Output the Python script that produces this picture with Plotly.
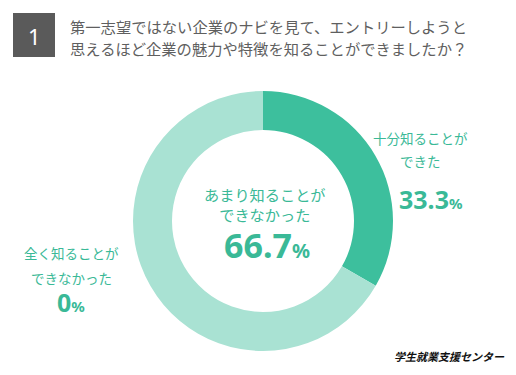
import plotly.graph_objects as go

# ---- data ----
categories = ["十分知ることができた", "あまり知ることができなかった", "全く知ることができなかった"]
values = [33.3, 66.7, 0]
colors = ["#3dbf9d", "#a9e2d3", "#7fd1bb"]
title_lines = ["第一志望ではない企業のナビを見て、エントリーしようと",
               "思えるほど企業の魅力や特徴を知ることができましたか？"]
question_no = "1"
source = "学生就業支援センター"

W, H = 516, 375
def px(x):
    return x / W
def py(y):
    return 1 - y / H

cx, cy, R = 263, 221, 130
TEAL = "#3ab997"
JP = "Noto Sans CJK JP"

fig = go.Figure(go.Pie(
    labels=categories, values=values, sort=False, direction="clockwise",
    rotation=0, hole=0.7, textinfo="none", hoverinfo="label+percent",
    marker=dict(colors=colors, line=dict(width=0)),
    domain=dict(x=[px(cx - R), px(cx + R)], y=[py(cy + R), py(cy - R)]),
))

ann = []
def add(text, x, y, size, color=TEAL, bold=False, family=JP, xanchor="center"):
    t = f"<b>{text}</b>" if bold else text
    ann.append(dict(text=t, x=px(x), y=py(y), xref="paper", yref="paper",
                    showarrow=False, xanchor=xanchor, yanchor="middle",
                    font=dict(size=size, color=color, family=family)))

def pct_text(v, small):
    return f"<b>{v:g}</b><span style='font-size:{small}px'><b>%</b></span>"

# title
for i, line in enumerate(title_lines):
    add(line, 68, 26 + 22 * i, 15.3, color="#5f5f5f", xanchor="left")
add(question_no, 34, 36, 22, color="#ffffff", family="Noto Sans")

# slice labels
add(categories[0][:7], 420, 138, 13.5)
add(categories[0][7:], 420, 161, 13.5)
add(pct_text(values[0], 15), 431, 199, 25, family="Noto Sans")

add(categories[1][:8] + "<br>" + categories[1][8:], 265, 204, 15.2)
add(pct_text(values[1], 20), 267, 245, 34, family="Noto Sans")

add(categories[2][:7], 71, 253, 13.5)
add(categories[2][7:], 71, 278, 13.5)
add(pct_text(values[2], 15), 71, 302, 25, family="Noto Sans")

# source logo
add(f"<i>{source}</i>", 449, 356, 11, color="#111111", bold=True)

fig.update_layout(
    width=W, height=H, margin=dict(l=0, r=0, t=0, b=0),
    paper_bgcolor="white", plot_bgcolor="white", showlegend=False,
    annotations=ann,
    shapes=[dict(type="rect", xref="paper", yref="paper",
                 x0=px(13), x1=px(55), y0=py(57), y1=py(13),
                 fillcolor="#5a5a5a", line=dict(width=0), layer="below")],
)
fig.write_html("out.html", config={"displayModeBar": False},
               post_script="document.body.style.margin='0';")
